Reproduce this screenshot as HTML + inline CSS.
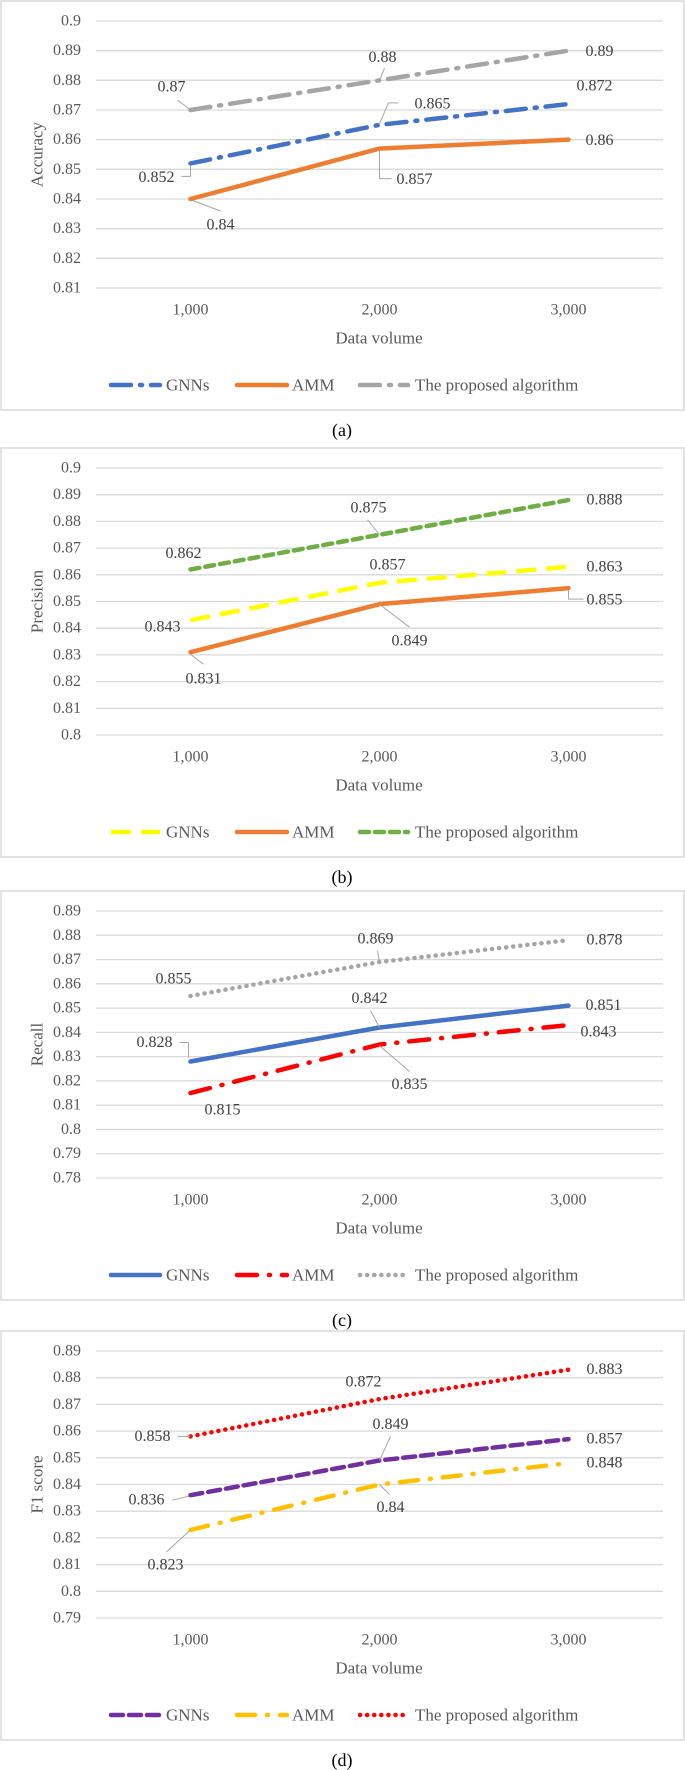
<!DOCTYPE html>
<html><head><meta charset="utf-8"><style>
body{margin:0;background:#fff;width:685px;height:1770px;overflow:hidden;font-family:"Liberation Serif",serif}
svg{position:absolute;left:0;top:0}
</style></head><body>
<svg id="chart" width="685" height="1770" viewBox="0 0 685 1770"></svg>
<script>
const categories=["1,000","2,000","3,000"];
const legendNames=["GNNs","AMM","The proposed algorithm"];
// (a) Accuracy
const accGNN=[0.852,0.865,0.872];
const accAMM=[0.84,0.857,0.86];
const accProp=[0.87,0.88,0.89];
const accTicks=["0.81","0.82","0.83","0.84","0.85","0.86","0.87","0.88","0.89","0.9"];
// (b) Precision
const preGNN=[0.843,0.857,0.863];
const preAMM=[0.831,0.849,0.855];
const preProp=[0.862,0.875,0.888];
const preTicks=["0.8","0.81","0.82","0.83","0.84","0.85","0.86","0.87","0.88","0.89","0.9"];
// (c) Recall
const recGNN=[0.828,0.842,0.851];
const recAMM=[0.815,0.835,0.843];
const recProp=[0.855,0.869,0.878];
const recTicks=["0.78","0.79","0.8","0.81","0.82","0.83","0.84","0.85","0.86","0.87","0.88","0.89"];
// (d) F1
const f1GNN=[0.836,0.849,0.857];
const f1AMM=[0.823,0.84,0.848];
const f1Prop=[0.858,0.872,0.883];
const f1Ticks=["0.79","0.8","0.81","0.82","0.83","0.84","0.85","0.86","0.87","0.88","0.89"];

const NS="http://www.w3.org/2000/svg";
const svg=document.getElementById('chart');
function mk(tag,attrs,parent){const e=document.createElementNS(NS,tag);for(const k in attrs)e.setAttribute(k,attrs[k]);(parent||svg).appendChild(e);return e;}

const styles={
 blueDashDot:{c:"#4472C4",d:"20 9 2 9",cap:"round"},
 orange:{c:"#ED7D31",d:"",cap:"round"},
 greyDashDot:{c:"#A5A5A5",d:"20 9 2 9",cap:"round"},
 yellowDash:{c:"#FFFF00",d:"20 10",cap:"butt"},
 greenDash:{c:"#70AD47",d:"9 6",cap:"round"},
 blue:{c:"#4472C4",d:"",cap:"round"},
 redDashDot:{c:"#FF0000",d:"20 12 1 12",cap:"round"},
 greyDot:{c:"#A5A5A5",d:"0.1 7",cap:"round"},
 purpleDash:{c:"#7030A0",d:"12 6",cap:"round"},
 goldDashDot:{c:"#FFC000",d:"18 12 1 12",cap:"round"},
 redDot:{c:"#FF0000",d:"0.1 7",cap:"round"}
};

function panel(top,letter,title,ticks,series,labels){
 const g=mk('g',{transform:`translate(0,${top})`});
 
 
 const frame=mk('rect',{x:1,y:1,width:683,height:409,fill:'#fff',stroke:'#d9d9d9','stroke-width':1.5},g);
 
 
 const yMin=parseFloat(ticks[0]),yMax=parseFloat(ticks[ticks.length-1]);
 const pT=21,pB=288,pL=96,pR=663;
 const y=v=>pB-(v-yMin)/(yMax-yMin)*(pB-pT);
 const band=(pR-pL)/categories.length;
 const x=i=>pL+band*(i+0.5);
 ticks.forEach(t=>{
  const yy=y(parseFloat(t));
  const gl=mk('line',{x1:pL,x2:pR,y1:yy,y2:yy,stroke:'#d9d9d9','stroke-width':1.3},g);
  
  
  const tl=mk('text',{x:81,y:yy,'text-anchor':'end','dominant-baseline':'central','font-size':16,fill:'#595959'},g);
  tl.textContent=t;
  
  
 });
 categories.forEach((c,i)=>{
  const tl=mk('text',{x:x(i),y:310,'text-anchor':'middle','dominant-baseline':'central','font-size':16,fill:'#595959'},g);
  tl.textContent=c;
  
  
 });
 const xt=mk('text',{x:379,y:338,'text-anchor':'middle','dominant-baseline':'central','font-size':17,fill:'#595959'},g);
 xt.textContent='Data volume';
 
 
 const yt=mk('text',{x:37,y:(pT+pB)/2,'text-anchor':'middle','dominant-baseline':'central','font-size':17,fill:'#595959',transform:`rotate(-90 37 ${(pT+pB)/2})`},g);
 yt.textContent=title;
 
 
 const legX=[[111,160,166],[237,287,292],[360,408,415]];
 series.forEach((s,si)=>{
  const st=styles[s.style];
  const pts=s.data.map((v,i)=>x(i)+','+y(v)).join(' ');
  const pl=mk('polyline',{points:pts,fill:'none',stroke:st.c,'stroke-width':4.5,'stroke-dasharray':st.d,'stroke-linecap':st.cap,'stroke-linejoin':'round'},g);
  
  
  // legend
  const L=legX[si];
  const ll=mk('line',{x1:L[0],x2:L[1],y1:385,y2:385,stroke:st.c,'stroke-width':4.5,'stroke-dasharray':st.d,'stroke-linecap':st.cap},g);
  
  
  const lt=mk('text',{x:L[2],y:385,'dominant-baseline':'central','font-size':17,fill:'#595959'},g);
  lt.textContent=legendNames[si];
  
  
  // labels
  s.data.forEach((v,i)=>{
   const lb=labels[si][i];
   const px=x(i),py=y(v);
   if(lb[2]){
    const lp=lb[2].map(p=>(px+p[0])+','+(py+p[1])).join(' ');
    const ld=mk('polyline',{points:lp,fill:'none',stroke:'#a6a6a6','stroke-width':1},g);
    
    
   }
   const t=mk('text',{x:px+lb[0],y:py+lb[1],'text-anchor':'middle','dominant-baseline':'central','font-size':16,fill:'#404040'},g);
   t.textContent=String(v);
   
   
  });
 });
 const cap=mk('text',{x:342,y:430,'text-anchor':'middle','dominant-baseline':'central','font-size':18,fill:'#000'},g);
 cap.textContent='('+letter+')';
 
 
}

panel(0,'a','Accuracy',accTicks,[
 {data:accGNN,style:'blueDashDot'},{data:accAMM,style:'orange'},{data:accProp,style:'greyDashDot'}],
 [[[-34,14,[[-9,13],[0,13],[0,2]]],[53,-21,[[19,-22],[9,-22],[0,-1]]],[26,-18,null]],
  [[30,26,[[1,1],[30,12]]],[35,31,[[0,1],[0,30],[12,30]]],[31,1,null]],
  [[-19,-23,[[0,0],[-13,-10]]],[3,-23,[[0,0],[5,-12]]],[31,1,null]]]);

panel(447,'b','Precision',preTicks,[
 {data:preGNN,style:'yellowDash'},{data:preAMM,style:'orange'},{data:preProp,style:'greenDash'}],
 [[[-28,7,null],[8,-18,null],[36,0,null]],
  [[13,27,[[0,2],[13,12]]],[30,37,[[0,0],[30,23]]],[36,12,[[0,2],[0,11],[15,11]]]],
  [[-7,-16,null],[-11,-27,[[0,0],[-12,-15]]],[36,0,null]]]);

panel(890,'c','Recall',recTicks,[
 {data:recGNN,style:'blue'},{data:recAMM,style:'redDashDot'},{data:recProp,style:'greyDot'}],
 [[[-36,-19,[[-2,-4],[-2,-19],[-11,-19]]],[-10,-29,[[0,0],[-9,-17]]],[35,0,null]],
  [[32,17,null],[30,40,[[0,1],[30,27]]],[30,7,null]],
  [[-17,-17,null],[-4,-23,[[0,0],[-2,-11]]],[36,0,null]]]);

panel(1330,'d','F1 score',f1Ticks,[
 {data:f1GNN,style:'purpleDash'},{data:f1AMM,style:'goldDashDot'},{data:f1Prop,style:'redDot'}],
 [[[-44,5,[[-2,1],[-18,5]]],[11,-36,[[0,0],[11,-24]]],[36,0,null]],
  [[-25,35,[[0,0],[-24,22]]],[11,23,[[0,0],[10,10]]],[36,0,null]],
  [[-38,0,[[0,0],[-13,0]]],[-16,-17,null],[36,0,null]]]);
</script>
</body></html>
